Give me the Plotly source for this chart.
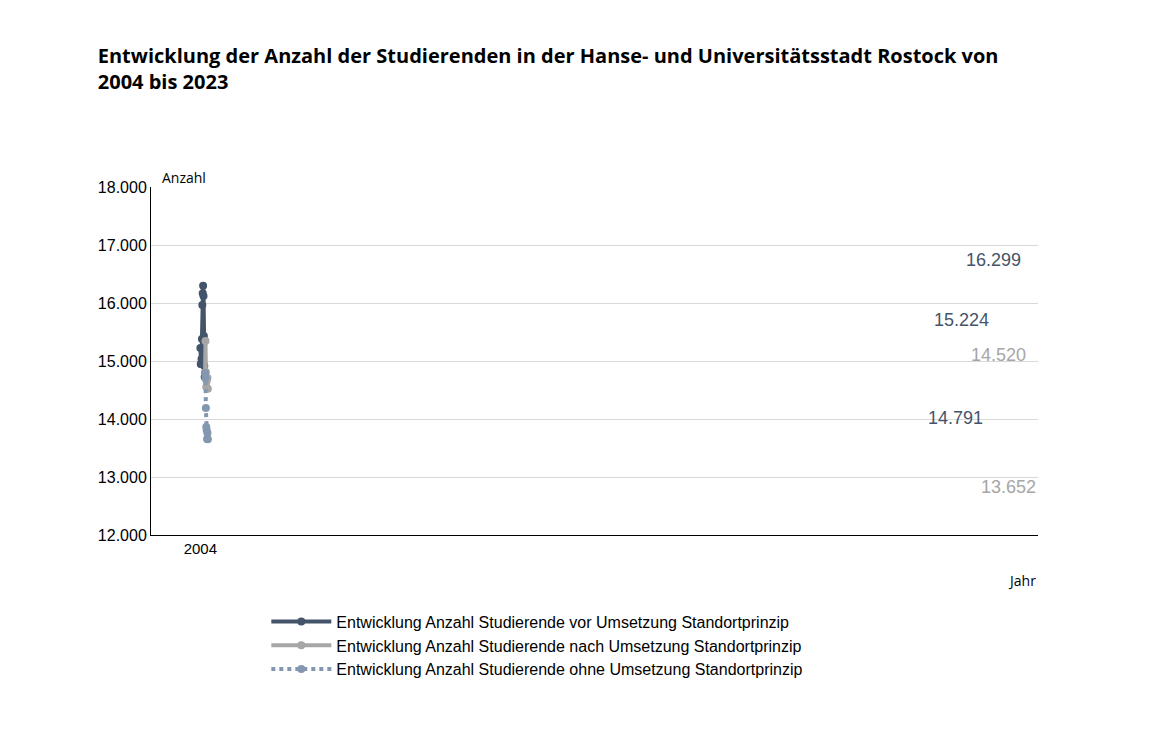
import plotly.graph_objects as go

years = [str(y) for y in range(2004, 2024)]
vor = [15224, 14950, 14950, 15035, 15380, 15965, 16170, 16299, 16120, 15430,
       14915, 14725, 14791]
nach = [14791, 15345, 14810, 14550, 14655, 14705, 14705, 14520]
ohne = [14791, 14705, 14190, 13860, 13810, 13655, 13760, 13652]
later_years = years[12:]

c_dark = "#44546a"
c_grey = "#a6a6a6"
c_blue = "#8497b0"

fig = go.Figure()
fig.add_trace(go.Scatter(x=years[:13], y=vor, mode="lines+markers",
                         name="Entwicklung Anzahl Studierende vor Umsetzung Standortprinzip",
                         line=dict(color=c_dark, width=4), marker=dict(size=8)))
fig.add_trace(go.Scatter(x=later_years, y=nach, mode="lines+markers",
                         name="Entwicklung Anzahl Studierende nach Umsetzung Standortprinzip",
                         line=dict(color=c_grey, width=4), marker=dict(size=8)))
fig.add_trace(go.Scatter(x=later_years, y=ohne, mode="lines+markers",
                         name="Entwicklung Anzahl Studierende ohne Umsetzung Standortprinzip",
                         line=dict(color=c_blue, width=4, dash="dot"), marker=dict(size=8)))

def fmt(v):
    return f"{v:,}".replace(",", ".")

labels = [
    (years[0], vor[0], c_dark, -30, -28),
    (years[7], vor[7], c_dark, 0, -26),
    (years[12], vor[12], c_dark, -40, 45),
    (years[-1], nach[-1], c_grey, 0, -34),
    (years[-1], ohne[-1], c_grey, 10, 48),
]
for x, y, col, ax, ay in labels:
    fig.add_annotation(x=x, y=y, text=fmt(y), showarrow=False, xshift=ax, yshift=-ay,
                       font=dict(size=18, color=col, family="Liberation Sans"))

fig.update_layout(
    width=1151, height=738, plot_bgcolor="white", paper_bgcolor="white",
    margin=dict(l=143, r=121, t=179, b=211),
    font=dict(family="Liberation Sans", size=15, color="black"),
    title=dict(text="Entwicklung der Anzahl der Studierenden in der Hanse- und Universitätsstadt Rostock von<br>2004 bis 2023",
               x=0.078, xref="container", xanchor="left", y=0.925, yanchor="top",
               font=dict(family="Open Sans", size=20, color="black", weight="bold")),
    showlegend=True,
    legend=dict(x=0.13, y=-0.2, xanchor="left", yanchor="top",
                font=dict(size=16), tracegroupgap=6, itemwidth=60),
    xaxis=dict(showline=True, linecolor="black", showgrid=False, ticks="",
               tickfont=dict(size=15)),
    yaxis=dict(range=[12000, 18000], dtick=1000, showline=True, linecolor="black",
               gridcolor="#d9d9d9", tickformat=",.3f", tickfont=dict(size=16)),
    separators=",.",
)
# tick labels like 18.000
fig.update_yaxes(tickvals=list(range(12000, 18001, 1000)),
                 ticktext=[fmt(v) for v in range(12000, 18001, 1000)])
fig.add_annotation(text="Anzahl", xref="paper", yref="paper", x=0.01, y=1.06,
                   showarrow=False, font=dict(size=14, family="Open Sans"))
fig.add_annotation(text="Jahr", xref="paper", yref="paper", x=1.0, y=-0.165,
                   showarrow=False, xanchor="right", font=dict(size=14, family="Open Sans"))

fig.write_html("out.html")
